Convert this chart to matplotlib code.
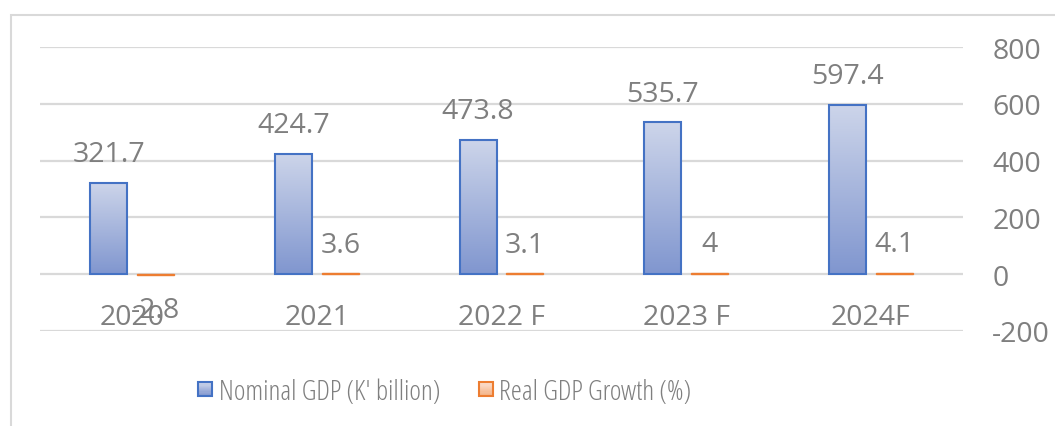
import numpy as np
import matplotlib.pyplot as plt
from matplotlib.patches import Rectangle
from matplotlib.colors import LinearSegmentedColormap, to_rgb
from matplotlib.legend_handler import HandlerBase

years = ["2020", "2021", "2022 F", "2023 F", "2024F"]
nominal_gdp = [321.7, 424.7, 473.8, 535.7, 597.4]
real_growth = [-2.8, 3.6, 3.1, 4, 4.1]
yticks = [-200, 0, 200, 400, 600, 800]

TXT = "#7f7f7f"
GRID = "#d9d9d9"
BLUE_EDGE = "#4472c4"
ORANGE_EDGE = "#ed7d31"
blue_grad = ["#8096cf", "#cdd5ea"]      # bottom -> top
orange_grad = ["#f4b183", "#fbe0d0"]

plt.rcParams["font.family"] = ["Open Sans", "DejaVu Sans"]
plt.rcParams["axes.unicode_minus"] = False
FS = 20.5

fig = plt.figure(figsize=(10.55, 4.27), dpi=100)
ax = fig.add_axes([40/1055, 1-331.7/427, 923/1055, (331.7-48.3)/427])

x = np.arange(len(years))
w = 0.2
off = 0.127

b1 = ax.bar(x - off, nominal_gdp, w, facecolor="none", edgecolor=BLUE_EDGE,
            linewidth=1.5, zorder=4)
b2 = ax.bar(x + off, real_growth, w, facecolor="#f8cbad", edgecolor=ORANGE_EDGE,
            linewidth=1.0, zorder=4)

# gradient fill inside the blue bars
cmap = LinearSegmentedColormap.from_list("bl", blue_grad)
grad = np.linspace(0, 1, 256).reshape(-1, 1)
for bar in b1:
    x0, y0 = bar.get_x(), bar.get_y()
    im = ax.imshow(grad, extent=[x0, x0 + bar.get_width(), y0, y0 + bar.get_height()],
                   origin="lower", aspect="auto", cmap=cmap, zorder=3)
    im.set_clip_path(bar)

ax.set_xlim(-0.5, len(years) - 0.5)
ax.set_ylim(-200, 800)

# data labels
for bar, v in zip(b1, nominal_gdp):
    ax.annotate(f"{v:g}", (bar.get_x() + bar.get_width()/2, v), xytext=(0, 20.5),
                textcoords="offset points", ha="center", va="center",
                color=TXT, fontsize=FS)
for bar, v in zip(b2, real_growth):
    dy = 20.5 if v >= 0 else -25
    ax.annotate(f"{v:g}", (bar.get_x() + bar.get_width()/2, v), xytext=(0, dy),
                textcoords="offset points", ha="center", va="center",
                color=TXT, fontsize=FS, zorder=6)

ax.set_yticks(yticks)
ax.yaxis.tick_right()
ax.tick_params(axis="y", length=0, pad=21, labelsize=FS, labelcolor=TXT)
ax.set_xticks(x, years)
ax.spines["bottom"].set_position(("data", 0))
ax.tick_params(axis="x", length=0, pad=21, labelsize=FS, labelcolor=TXT)
for s in ax.spines.values():
    s.set_visible(False)
ax.grid(axis="y", color=GRID, linewidth=1.6)
ax.set_axisbelow(True)
ax.patch.set_visible(False)


class GradHandler(HandlerBase):
    def __init__(self, colors, edge):
        super().__init__()
        self.colors = colors
        self.edge = edge

    def create_artists(self, legend, orig_handle, xdescent, ydescent, width,
                       height, fontsize, trans):
        side = min(width, height)
        x0 = -xdescent + (width - side) / 2
        y0 = -ydescent + (height - side) / 2
        c0, c1 = np.array(to_rgb(self.colors[0])), np.array(to_rgb(self.colors[1]))
        arts = []
        n = 12
        for i in range(n):
            t = i / (n - 1)
            arts.append(Rectangle((x0, y0 + side * i / n), side, side / n + 0.3,
                                  facecolor=c0 * (1 - t) + c1 * t, edgecolor="none",
                                  transform=trans))
        arts.append(Rectangle((x0, y0), side, side, facecolor="none",
                              edgecolor=self.edge, linewidth=1.5, transform=trans))
        return arts


leg = fig.legend([b1, b2], ["Nominal GDP (K' billion)", "Real GDP Growth (%)"],
                 handler_map={b1: GradHandler(blue_grad, BLUE_EDGE),
                              b2: GradHandler(orange_grad, ORANGE_EDGE)},
                 loc="center", bbox_to_anchor=(445/1055, 1-393/427), ncol=2,
                 frameon=False, labelcolor=TXT,
                 prop={"family": "Open Sans", "stretch": "condensed", "size": 20.2},
                 handlelength=0.5, handleheight=0.5, handletextpad=0.22,
                 columnspacing=1.4)

# chart area border (clipped by image edges)
fig.patches.append(Rectangle((11/1055, -0.2), 2, 1.2 - 15.7/427, fill=False,
                             edgecolor=GRID, linewidth=1.5,
                             transform=fig.transFigure))

fig.savefig("out.png", dpi=100)
